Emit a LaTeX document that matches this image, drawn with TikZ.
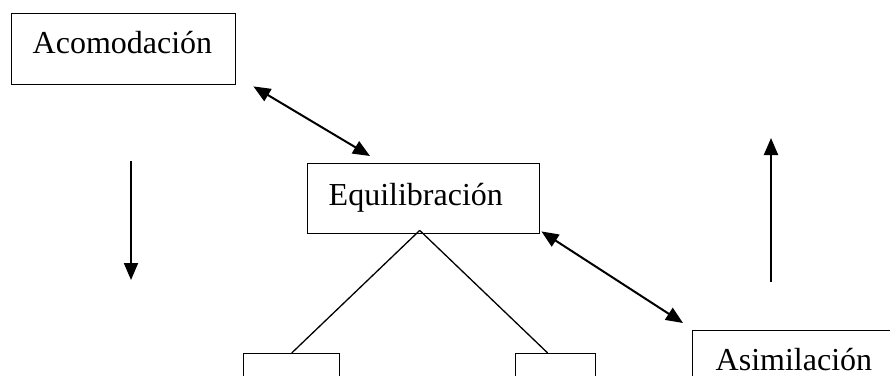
\documentclass[tikz,border=0pt]{standalone}
\usepackage{fontspec}
\setmainfont{Liberation Serif}
\usetikzlibrary{arrows.meta,calc}
\begin{document}
\begin{tikzpicture}[x=1pt,y=-1pt]
        \tikzstyle{box}=[draw,line width=1.4pt,anchor=north west,align=left,inner xsep=21pt,inner ysep=0pt,font=\fontsize{32}{38}\selectfont]
        \tikzstyle{link}=[line width=2pt,{Triangle[length=17pt,width=14pt]}-{Triangle[length=17pt,width=14pt]}]
        \tikzstyle{oneway}=[line width=2pt,-{Triangle[length=17pt,width=14pt]}]
        \useasboundingbox (0,0) rectangle (890,375);
        \node[box,text width=182pt,text height=40pt,text depth=31pt] (acom) at (11,13) {Acomodación};
        \node[box,text width=190pt,text height=42pt,text depth=28pt] (equi) at (307,163) {Equilibración};
        \node[box,inner xsep=23pt,text width=190pt,text height=40pt,text depth=35pt] (asim) at (692,330) {Asimilación};
        \node[box,minimum width=96pt,minimum height=60pt] (left) at (243,353) {};
        \node[box,minimum width=80pt,minimum height=60pt] (right) at (515,353) {};
        \coordinate (apex) at ($(equi.south)+(-4,-4)$);
        \draw[line width=1.3pt] (apex) -- (left.north);
        \draw[line width=1.3pt] (apex) -- ($(right.north)+(-8,0)$);
        \draw[link] ($(acom.south east)+(17,1)$) -- ($(equi.north west)+(63,-7)$);
        \draw[link] ($(equi.south east)+(1,-3)$) -- ($(asim.north west)+(-9,-7)$);
        \coordinate (down1) at (131,161);
        \coordinate (down2) at (131,280);
        \coordinate (up1) at (771,282);
        \coordinate (up2) at (771,138);
        \draw[oneway] (down1) -- (down2);
        \draw[oneway] (up1) -- (up2);
\end{tikzpicture}
\end{document}
